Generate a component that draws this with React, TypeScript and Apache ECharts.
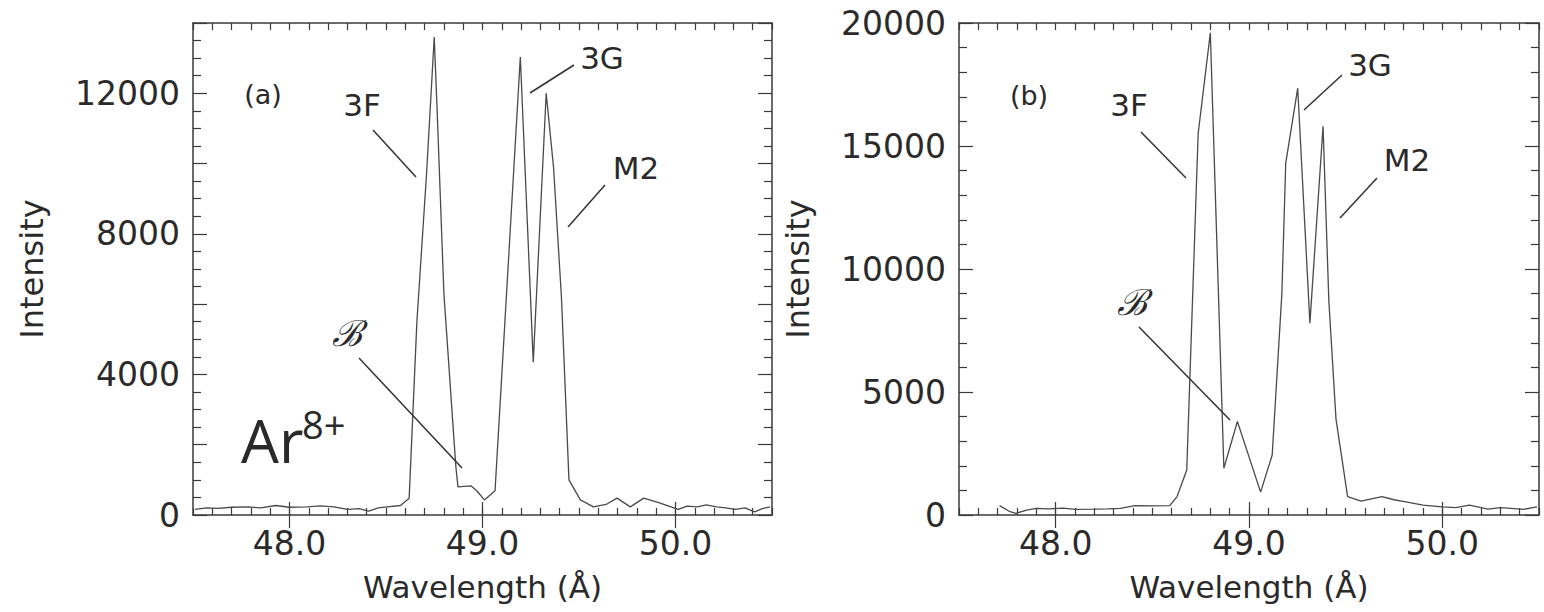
import React, { useEffect, useRef } from "react";
import * as echarts from "echarts";

// ---- Data ----
const waveA = [
  47.51, 47.57, 47.63, 47.7, 47.79, 47.85, 47.93, 48.0, 48.09, 48.16, 48.23, 48.3, 48.36, 48.41, 48.46, 48.505,
  48.575, 48.62, 48.66, 48.71, 48.75, 48.765, 48.8, 48.862, 48.873, 48.94, 48.97, 49.01, 49.065, 49.196, 49.263,
  49.33, 49.368, 49.409, 49.448, 49.507, 49.575, 49.64, 49.697, 49.766, 49.835, 49.913, 50.014, 50.06, 50.113,
  50.16, 50.213, 50.26, 50.31, 50.36, 50.41, 50.45, 50.49,
];
const intA = [
  160, 200, 190, 220, 230, 200, 270, 220, 230, 260, 230, 160, 180, 110, 200, 230,
  270, 480, 5500, 9700, 13600, 11500, 6300, 1370, 800, 830, 690, 430, 690, 13030, 4350,
  12000, 9900, 6200, 1000, 430, 230, 300, 480, 230, 480, 350, 160, 250, 230,
  290, 230, 200, 160, 200, 90, 180, 230,
];

const waveB = [
  47.71, 47.76, 47.795, 47.85, 47.9, 47.96, 48.04, 48.1, 48.2, 48.27, 48.335, 48.41, 48.5, 48.59, 48.628, 48.678,
  48.737, 48.8, 48.87, 48.94, 49.06, 49.12, 49.17, 49.19, 49.252, 49.315, 49.383, 49.413, 49.45, 49.51, 49.58,
  49.687, 49.75, 49.805, 49.9, 50.0, 50.07, 50.14, 50.236, 50.3, 50.354, 50.42, 50.49,
];
const intB = [
  380, 150, 70, 200, 270, 250, 280, 230, 240, 250, 270, 380, 370, 380, 750, 1830,
  15500, 19600, 1900, 3800, 930, 2440, 9000, 14300, 17350, 7800, 15800, 8700, 3900, 750, 560,
  750, 620, 540, 400, 330, 300, 400, 240, 300, 270, 230, 330,
];

const xLabelValues = [48, 49, 50];
const yLabelStepA = 4000;
const yLabelStepB = 5000;

const FONT = '"DejaVu Sans", sans-serif';
const FRAME = "#3a3a3a";
const TEXT = "#2a2a2a";

function zip(xs: number[], ys: number[]) {
  return xs.map((x, i) => [x, ys[i]]);
}

function xAxesFor(gridIndex: number) {
  const base: any = { type: "value", gridIndex, min: 47.5, max: 50.5, interval: 0.5, splitLine: { show: false } };
  const line = { show: true, onZero: false, lineStyle: { color: FRAME, width: 1.5 } };
  const tick = { show: true, inside: true, length: 7, lineStyle: { color: FRAME, width: 1.2 } };
  const minor = { show: true, splitNumber: 5, length: 7, lineStyle: { color: FRAME, width: 1.2 } };
  const longTick = {
    show: true,
    inside: true,
    length: 13,
    customValues: xLabelValues,
    lineStyle: { color: FRAME, width: 1.2 },
  };
  return [
    {
      ...base,
      position: "bottom",
      axisLine: line,
      axisTick: tick,
      minorTick: minor,
      axisLabel: {
        show: true,
        margin: 12,
        fontFamily: FONT,
        fontSize: 33,
        color: TEXT,
        formatter: (v: number) => (Math.abs(v - Math.round(v)) < 1e-6 ? v.toFixed(1) : ""),
      },
      name: "Wavelength (Å)",
      nameLocation: "middle",
      nameGap: 56,
      nameTextStyle: { fontFamily: FONT, fontSize: 31, color: TEXT },
    },
    { ...base, position: "top", axisLine: line, axisTick: tick, minorTick: minor, axisLabel: { show: false } },
    { ...base, position: "bottom", axisLine: { show: false }, axisTick: longTick, axisLabel: { show: false } },
    { ...base, position: "top", axisLine: { show: false }, axisTick: longTick, axisLabel: { show: false } },
  ];
}

function yAxesFor(gridIndex: number, max: number, interval: number, minorSplit: number, labelStep: number) {
  const base: any = { type: "value", gridIndex, min: 0, max, interval, splitLine: { show: false } };
  const line = { show: true, onZero: false, lineStyle: { color: FRAME, width: 1.5 } };
  const tick = { show: true, inside: true, length: 14, lineStyle: { color: FRAME, width: 1.2 } };
  const minor = { show: true, splitNumber: minorSplit, length: 8, lineStyle: { color: FRAME, width: 1.2 } };
  return [
    {
      ...base,
      position: "left",
      axisLine: line,
      axisTick: tick,
      minorTick: minor,
      axisLabel: {
        show: true,
        margin: 13,
        fontFamily: FONT,
        fontSize: 33,
        color: TEXT,
        formatter: (v: number) => (v % labelStep === 0 ? String(v) : ""),
      },
      name: "Intensity",
      nameLocation: "middle",
      nameGap: 145,
      nameTextStyle: { fontFamily: FONT, fontSize: 32, color: TEXT },
    },
    { ...base, position: "right", axisLine: line, axisTick: tick, minorTick: minor, axisLabel: { show: false } },
  ];
}

function label(text: string, x: number, y: number, size: number, font = FONT, extra: any = {}) {
  return {
    type: "text",
    x,
    y,
    style: {
      text,
      font: `${extra.style || ""} ${size}px ${font}`,
      fill: TEXT,
      textAlign: extra.align || "center",
      textVerticalAlign: "middle",
    },
    z: 50,
  };
}

function leader(x1: number, y1: number, x2: number, y2: number) {
  return {
    type: "line",
    shape: { x1, y1, x2, y2 },
    style: { stroke: "#333", lineWidth: 1.5 },
    z: 50,
  };
}

export default function App() {
  const ref = useRef<HTMLDivElement>(null);
  useEffect(() => {
    if (!ref.current) return;
    const chart = echarts.init(ref.current, undefined, { renderer: "svg" });
    const seriesLine = { color: "#4a4a4a", width: 1.3 };
    chart.setOption({
      animation: false,
      backgroundColor: "#ffffff",
      grid: [
        { left: 193, top: 23, width: 579, height: 492 },
        { left: 959, top: 23, width: 580, height: 492 },
      ],
      xAxis: [...xAxesFor(0), ...xAxesFor(1)],
      yAxis: [...yAxesFor(0, 14000, 2000, 4, yLabelStepA), ...yAxesFor(1, 20000, 5000, 5, yLabelStepB)],
      series: [
        {
          type: "line",
          xAxisIndex: 0,
          yAxisIndex: 0,
          data: zip(waveA, intA),
          showSymbol: false,
          lineStyle: seriesLine,
          z: 10,
        },
        {
          type: "line",
          xAxisIndex: 4,
          yAxisIndex: 2,
          data: zip(waveB, intB),
          showSymbol: false,
          lineStyle: seriesLine,
          z: 10,
        },
      ],
      graphic: [
        // panel (a)
        label("(a)", 263, 94, 27),
        label("3F", 362, 105, 31),
        leader(373, 130, 416, 177),
        label("3G", 602, 58, 31),
        leader(530, 93, 574, 65),
        label("M2", 636, 168, 31),
        leader(568, 227, 605, 185),
        label("ℬ", 347, 333, 36, '"DejaVu Serif", serif', { style: "italic" }),
        leader(359, 358, 462, 468),
        label("Ar", 241, 440, 60, '"Open Sans", sans-serif', { align: "left" }),
        label("8+", 302, 424, 38, '"Open Sans", sans-serif', { align: "left" }),
        // panel (b)
        label("(b)", 1029, 95, 27),
        label("3F", 1129, 105, 31),
        leader(1141, 132, 1186, 178),
        label("3G", 1370, 65, 31),
        leader(1304, 110, 1342, 75),
        label("M2", 1407, 160, 31),
        leader(1340, 218, 1377, 178),
        label("ℬ", 1132, 302, 36, '"DejaVu Serif", serif', { style: "italic" }),
        leader(1139, 327, 1230, 420),
      ],
    });
    return () => chart.dispose();
  }, []);
  return (
    <div
      ref={ref}
      style={{ position: "absolute", left: 0, top: 0, width: 1544, height: 612, background: "#fff" }}
    />
  );
}
